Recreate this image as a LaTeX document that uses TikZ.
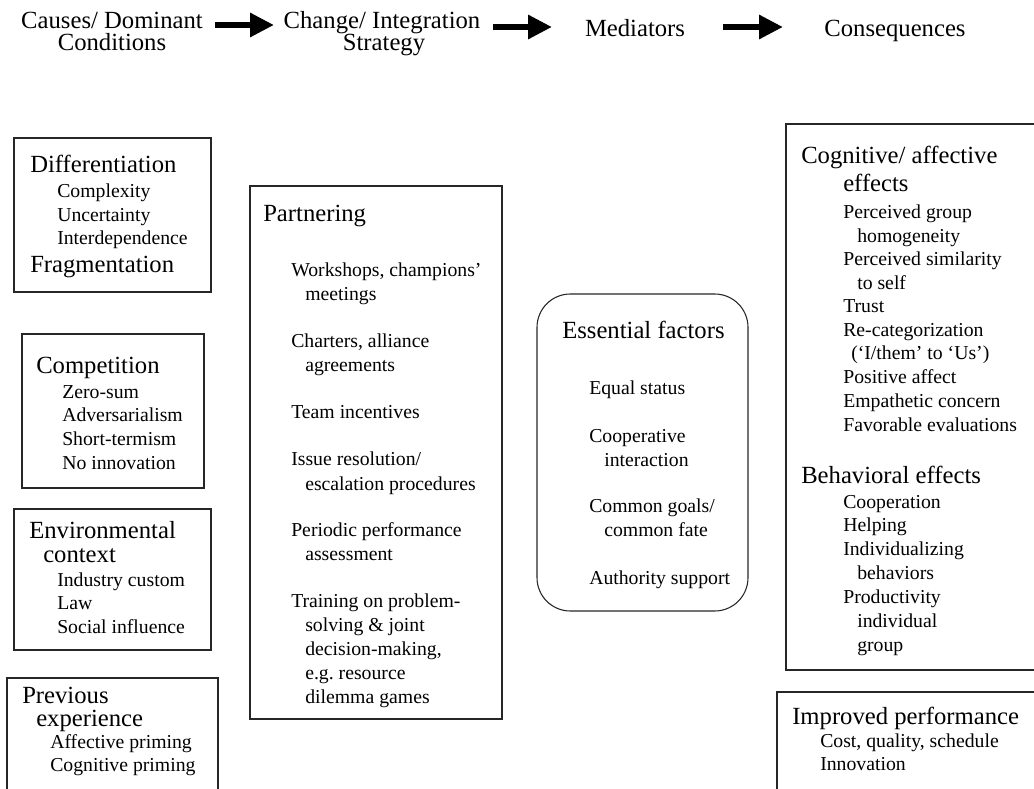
\documentclass[tikz,border=0pt]{standalone}
\usepackage{fontspec}
\setmainfont{Liberation Serif}
\usetikzlibrary{arrows.meta}
\begin{document}
\begin{tikzpicture}[x=0.75pt,y=-0.75pt,
  box/.style={draw=black!85, line width=0.8pt},
  ttl/.style={inner sep=0pt, anchor=base, font=\fontsize{18.5}{15}\selectfont},
  hdg/.style={inner sep=0pt, anchor=base west, font=\fontsize{18.5}{22}\selectfont},
  itm/.style={inner sep=0pt, anchor=base west, font=\fontsize{14.8}{18}\selectfont},
  bigarrow/.style={line width=4.5pt, -{Triangle[length=18pt,width=17.25pt]}}]
\clip (0,0) rectangle (1034,788);

% ---- column titles and the arrows between them
\node[ttl] (c1) at (112,29) {Causes/ Dominant};
\node[ttl] (c2) at (112,51) {Conditions};
\node[ttl] (s1) at (382,29) {Change/ Integration};
\node[ttl] (s2) at (384,51) {Strategy};
\node[ttl] (m)  at (635,37) {Mediators};
\node[ttl] (q)  at (895,37) {Consequences};
\coordinate (a1s) at (215,25); \coordinate (a1e) at (274,25);
\coordinate (a2s) at (493,27); \coordinate (a2e) at (552,27);
\coordinate (a3s) at (723,27); \coordinate (a3e) at (783,27);
\draw[bigarrow] (a1s) -- (a1e);
\draw[bigarrow] (a2s) -- (a2e);
\draw[bigarrow] (a3s) -- (a3e);

% ---- causes / dominant conditions
\draw[box] (14,138) rectangle (211,292);
\node[hdg] (d0) at (30,172)  {Differentiation};
\node[itm] (d1) at (57,197)  {Complexity};
\node[itm] (d2) at (57,221)  {Uncertainty};
\node[itm] (d3) at (57,244)  {Interdependence};
\node[hdg] (d4) at (30,272)  {Fragmentation};

\draw[box] (22,334) rectangle (204,488);
\node[hdg] (k0) at (36,373)  {Competition};
\node[itm] (k1) at (62,398)  {Zero-sum};
\node[itm] (k2) at (62,421)  {Adversarialism};
\node[itm] (k3) at (62,445)  {Short-termism};
\node[itm] (k4) at (62,469)  {No innovation};

\draw[box] (14,509) rectangle (211,650);
\node[hdg] (e0) at (29,538)  {Environmental};
\node[hdg] (e1) at (43,562)  {context};
\node[itm] (e2) at (57,586)  {Industry custom};
\node[itm] (e3) at (57,609)  {Law};
\node[itm] (e4) at (57,633)  {Social influence};

\draw[box] (7,678) rectangle (218,810);
\node[hdg] (p0) at (22,703)  {Previous};
\node[hdg] (p1) at (36,726)  {experience};
\node[itm] (p2) at (50,748)  {Affective priming};
\node[itm] (p3) at (50,771)  {Cognitive priming};

% ---- change / integration strategy
\draw[box] (250,186) rectangle (502,719);
\node[hdg] (t0)  at (263,221) {Partnering};
\node[itm] (t1)  at (291,276) {Workshops, champions’};
\node[itm] (t2)  at (305,300) {meetings};
\node[itm] (t3)  at (291,347) {Charters, alliance};
\node[itm] (t4)  at (305,371) {agreements};
\node[itm] (t5)  at (291,418) {Team incentives};
\node[itm] (t6)  at (291,465) {Issue resolution/};
\node[itm] (t7)  at (305,490) {escalation procedures};
\node[itm] (t8)  at (291,536) {Periodic performance};
\node[itm] (t9)  at (305,560) {assessment};
\node[itm] (t10) at (291,607) {Training on problem-};
\node[itm] (t11) at (305,631) {solving \& joint};
\node[itm] (t12) at (305,655) {decision-making,};
\node[itm] (t13) at (305,679) {e.g.\ resource};
\node[itm] (t14) at (305,703) {dilemma games};

% ---- mediators
\draw[box, rounded corners=25pt] (537,294) rectangle (748,611);
\node[hdg] (f0) at (562,338) {Essential factors};
\node[itm] (f1) at (589,394) {Equal status};
\node[itm] (f2) at (589,442) {Cooperative};
\node[itm] (f3) at (604,466) {interaction};
\node[itm] (f4) at (589,512) {Common goals/};
\node[itm] (f5) at (604,536) {common fate};
\node[itm] (f6) at (589,584) {Authority support};

% ---- consequences
\draw[box] (786,124) rectangle (1045,670);
\node[hdg] (g0)  at (801,163) {Cognitive/ affective};
\node[hdg] (g1)  at (843,191) {effects};
\node[itm] (g2)  at (843,218) {Perceived group};
\node[itm] (g3)  at (857,242) {homogeneity};
\node[itm] (g4)  at (843,265) {Perceived similarity};
\node[itm] (g5)  at (857,289) {to self};
\node[itm] (g6)  at (843,312) {Trust};
\node[itm] (g7)  at (843,336) {Re-categorization};
\node[itm] (g8)  at (851,359) {(‘I/them’ to ‘Us’)};
\node[itm] (g9)  at (843,383) {Positive affect};
\node[itm] (g10) at (843,407) {Empathetic concern};
\node[itm] (g11) at (843,431) {Favorable evaluations};
\node[hdg] (h0)  at (801,483) {Behavioral effects};
\node[itm] (h1)  at (843,508) {Cooperation};
\node[itm] (h2)  at (843,531) {Helping};
\node[itm] (h3)  at (843,555) {Individualizing};
\node[itm] (h4)  at (857,579) {behaviors};
\node[itm] (h5)  at (843,603) {Productivity};
\node[itm] (h6)  at (857,627) {individual};
\node[itm] (h7)  at (857,651) {group};

\draw[box] (777,692) rectangle (1045,810);
\node[hdg] (r0) at (792,724) {Improved performance};
\node[itm] (r1) at (820,747) {Cost, quality, schedule};
\node[itm] (r2) at (820,770) {Innovation};
\end{tikzpicture}
\end{document}
